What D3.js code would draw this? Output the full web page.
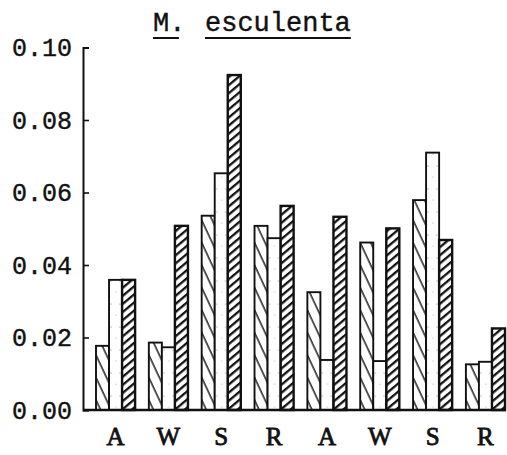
<!DOCTYPE html>
<html>
<head>
<meta charset="utf-8">
<script src="https://cdn.jsdelivr.net/npm/d3@7"></script>
<style>
  body { margin: 0; background: #fff; }
  svg text { font-family: "Liberation Mono", "DejaVu Sans Mono", monospace; fill: #111; }
</style>
</head>
<body>
<div id="chart"></div>
<script>
// seasons along the x axis, two sites of four seasons each
var groups = ["A", "W", "S", "R", "A", "W", "S", "R"];
var seriesNames = ["back", "blank", "forward"];
var seriesBack = [0.0177, 0.0186, 0.0536, 0.0508, 0.0325, 0.0462, 0.0579, 0.0126];
var seriesBlank = [0.0359, 0.0173, 0.0653, 0.0474, 0.0138, 0.0135, 0.0710, 0.0133];
var seriesForward = [0.0359, 0.0508, 0.0924, 0.0563, 0.0533, 0.0501, 0.0469, 0.0225];
var yTicks = [0, 0.02, 0.04, 0.06, 0.08, 0.10];

var width = 507, height = 455;
var plot = { left: 83, right: 505, top: 47.5, bottom: 410 };

var svg = d3.select("#chart")
    .append("svg")
    .attr("width", width)
    .attr("height", height);

var defs = svg.append("defs");

// sparse steep "\" hatch
var pBack = defs.append("pattern")
    .attr("id", "hatchBack")
    .attr("patternUnits", "userSpaceOnUse")
    .attr("width", 9.5)
    .attr("height", 20)
    .attr("patternTransform", "rotate(-25)");
pBack.append("line")
    .attr("x1", 2).attr("y1", 0).attr("x2", 2).attr("y2", 20)
    .attr("stroke", "#111").attr("stroke-width", 1.4);

// dense bold "/" hatch
var pFwd = defs.append("pattern")
    .attr("id", "hatchFwd")
    .attr("patternUnits", "userSpaceOnUse")
    .attr("width", 6.2)
    .attr("height", 20)
    .attr("patternTransform", "rotate(50)");
pFwd.append("line")
    .attr("x1", 2).attr("y1", 0).attr("x2", 2).attr("y2", 20)
    .attr("stroke", "#111").attr("stroke-width", 2.3);

// faint speckle for the plain bars
var pDot = defs.append("pattern")
    .attr("id", "dots")
    .attr("patternUnits", "userSpaceOnUse")
    .attr("width", 9)
    .attr("height", 23);
pDot.append("rect").attr("width", 9).attr("height", 23).attr("fill", "#fff");
pDot.append("circle").attr("cx", 6).attr("cy", 5).attr("r", 0.6).attr("fill", "#777");
pDot.append("circle").attr("cx", 2).attr("cy", 16).attr("r", 0.5).attr("fill", "#999");

var fills = { back: "url(#hatchBack)", blank: "url(#dots)", forward: "url(#hatchFwd)" };

var data = groups.map(function (g, i) {
    return { key: i, label: g, back: seriesBack[i], blank: seriesBlank[i], forward: seriesForward[i] };
});

var x = d3.scaleBand()
    .domain(d3.range(groups.length))
    .range([96, plot.right])
    .paddingInner(0.26)
    .paddingOuter(0);

var xInner = d3.scaleBand()
    .domain(seriesNames)
    .range([0, x.bandwidth()])
    .padding(0);

var y = d3.scaleLinear()
    .domain([0, 0.10])
    .range([plot.bottom, plot.top]);

// bars
var group = svg.append("g")
    .selectAll("g")
    .data(data)
    .enter()
    .append("g")
    .attr("transform", function (d) { return "translate(" + x(d.key) + ",0)"; });

group.selectAll("rect")
    .data(function (d) { return seriesNames.map(function (k) { return { key: k, value: d[k] }; }); })
    .enter()
    .append("rect")
    .attr("x", function (d) { return xInner(d.key); })
    .attr("y", function (d) { return y(d.value); })
    .attr("width", xInner.bandwidth())
    .attr("height", function (d) { return y(0) - y(d.value); })
    .attr("fill", function (d) { return fills[d.key]; })
    .attr("stroke", "#111")
    .attr("stroke-width", function (d) { return d.key == "forward" ? 2.4 : 1.9; });

// y axis, ticks pointing inwards
var yAxis = svg.append("g")
    .attr("transform", "translate(" + plot.left + ",0)")
    .call(d3.axisLeft(y)
        .tickValues(yTicks)
        .tickFormat(d3.format(".2f"))
        .tickSizeInner(-6)
        .tickSizeOuter(-6)
        .tickPadding(11));

yAxis.select(".domain")
    .attr("stroke", "#111")
    .attr("stroke-width", 2);
yAxis.selectAll(".tick line")
    .attr("stroke", "#111")
    .attr("stroke-width", 1.6);
yAxis.selectAll(".tick text")
    .attr("font-size", "25px")
    .attr("fill", "#111")
    .attr("stroke", "#111")
    .attr("stroke-width", 0.4)
    .style("font-family", "Liberation Mono, DejaVu Sans Mono, monospace");

// baseline
svg.append("line")
    .attr("x1", plot.left)
    .attr("x2", plot.right + 1)
    .attr("y1", y(0))
    .attr("y2", y(0))
    .attr("stroke", "#111")
    .attr("stroke-width", 2.6);

// x labels (typewriter-like serif letters)
svg.append("g")
    .selectAll("text")
    .data(data)
    .enter()
    .append("text")
    .attr("x", function (d) { return x(d.key) + x.bandwidth() / 2; })
    .attr("y", 445)
    .attr("text-anchor", "middle")
    .attr("font-size", "25px")
    .attr("stroke", "#111")
    .attr("stroke-width", 0.8)
    .style("font-family", "Liberation Serif, DejaVu Serif, serif")
    .text(function (d) { return d.label; });

// title, each word underlined separately
var titleParts = [{ t: "M.", x: 153, ul: 1.6 }, { t: "esculenta", x: 205, ul: 9 }];
var title = svg.append("g");
titleParts.forEach(function (p) {
    var txt = title.append("text")
        .attr("x", p.x)
        .attr("y", 31)
        .attr("font-size", "27px")
        .attr("stroke", "#111")
        .attr("stroke-width", 0.4)
        .text(p.t);
    var cw = txt.node().getComputedTextLength() / p.t.length;
    title.append("line")
        .attr("x1", p.x)
        .attr("x2", p.x + cw * p.ul)
        .attr("y1", 38)
        .attr("y2", 38)
        .attr("stroke", "#111")
        .attr("stroke-width", 2);
});
</script>
</body>
</html>
